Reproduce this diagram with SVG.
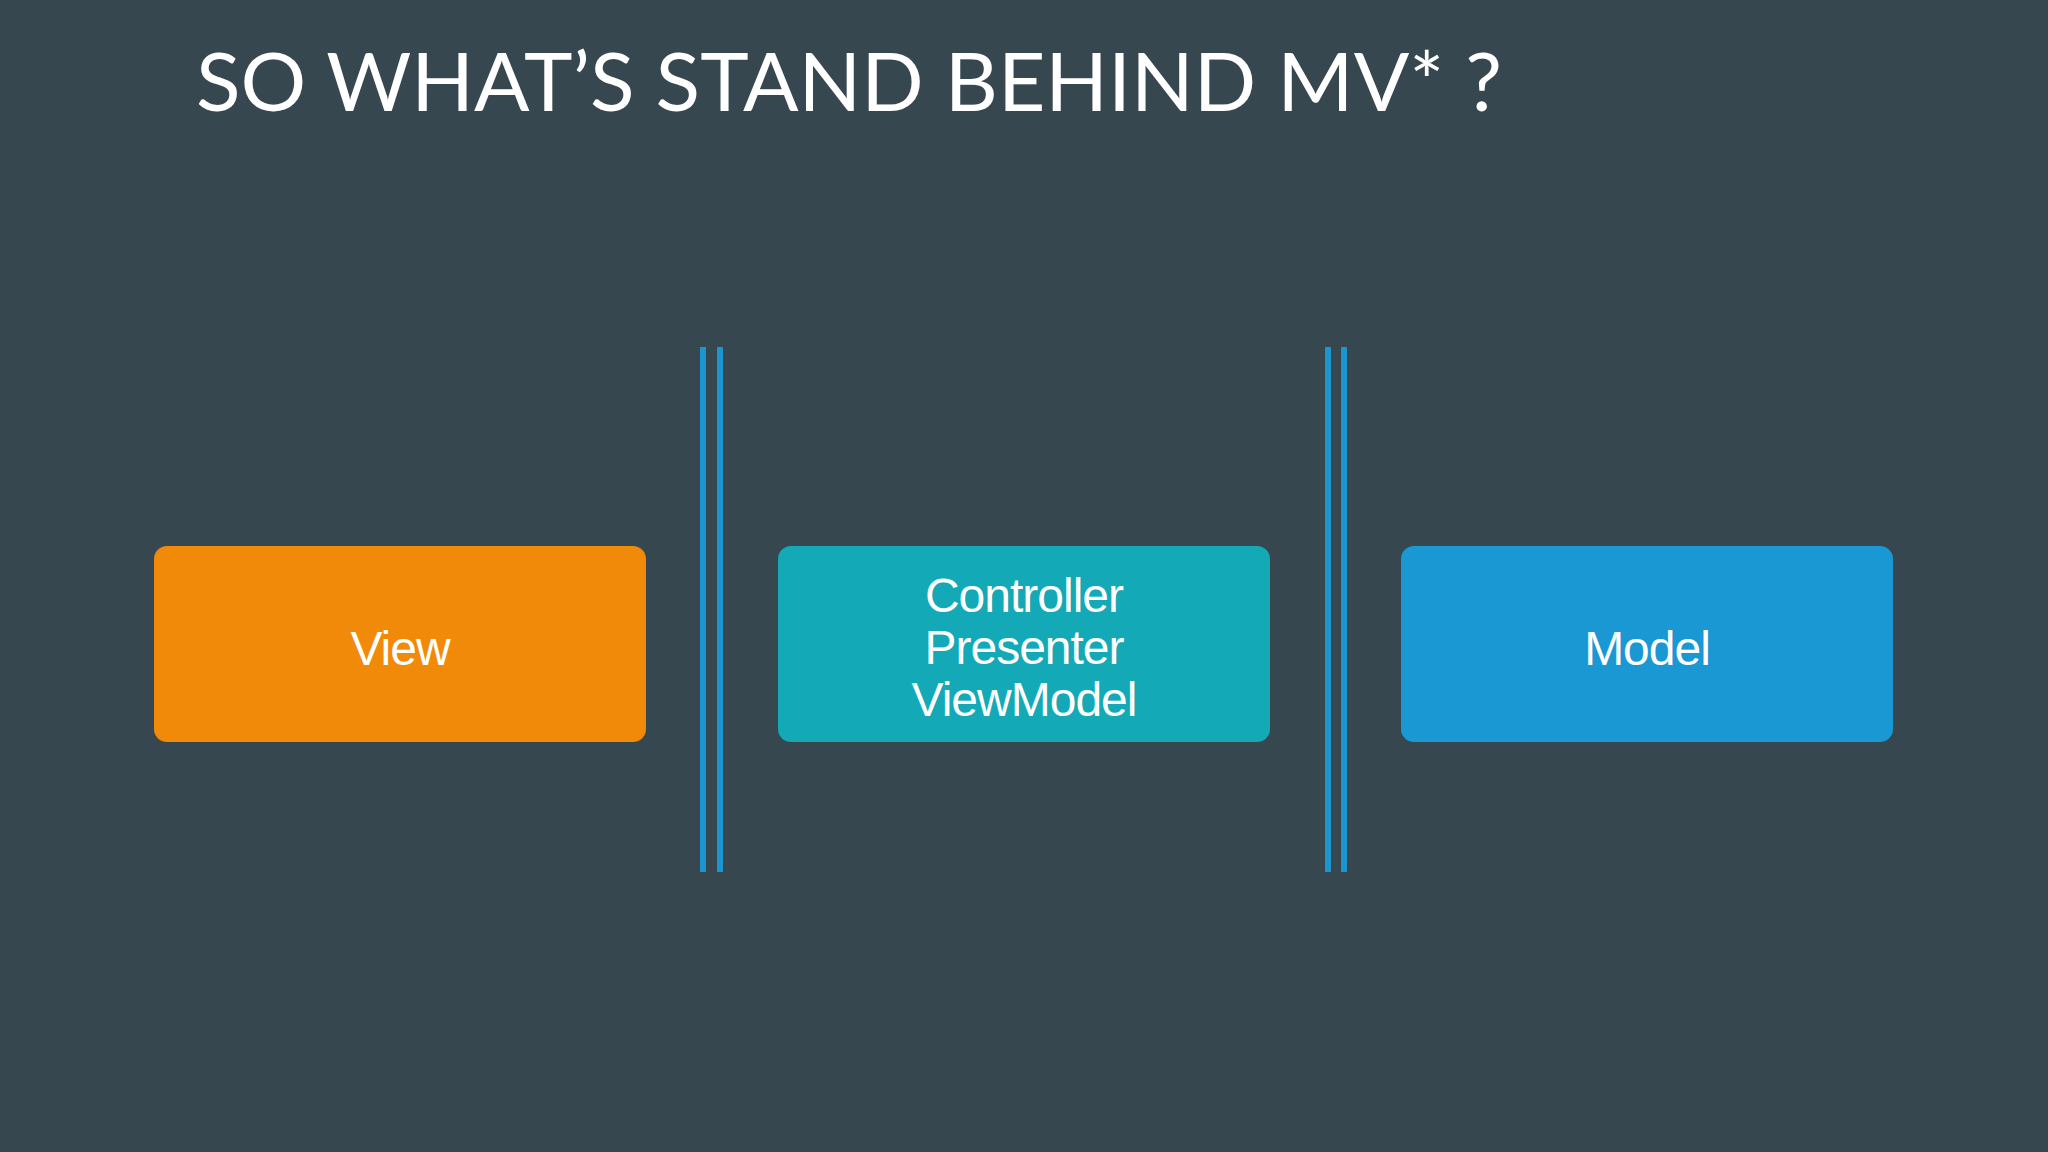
<svg xmlns="http://www.w3.org/2000/svg" width="2048" height="1152" viewBox="0 0 2048 1152">
<style>
.box-label{font-family:"Liberation Sans",Arial,sans-serif;font-size:48px;letter-spacing:-1px;fill:#ffffff;text-anchor:middle}
.title{font-family:Lato,"Open Sans",sans-serif;font-size:82px;fill:#ffffff}
.sep{stroke:#1b95d0;stroke-width:6}
</style>
<rect width="2048" height="1152" fill="#37474f"/>
<text class="title" x="196" y="111" textLength="1306" lengthAdjust="spacingAndGlyphs">SO WHAT’S STAND BEHIND MV* ?</text>
<g id="connectors">
<line class="sep" x1="703" y1="347" x2="703" y2="872"/>
<line class="sep" x1="720" y1="347" x2="720" y2="872"/>
<line class="sep" x1="1328" y1="347" x2="1328" y2="872"/>
<line class="sep" x1="1344" y1="347" x2="1344" y2="872"/>
</g>
<g id="view">
<rect x="154" y="546" width="492" height="196" rx="13" fill="#f08a08"/>
<text class="box-label" x="400" y="665">View</text>
</g>
<g id="controller">
<rect x="778" y="546" width="492" height="196" rx="13" fill="#13a9b6"/>
<text class="box-label" x="1024" y="612">Controller</text>
<text class="box-label" x="1024" y="664">Presenter</text>
<text class="box-label" x="1024" y="716">ViewModel</text>
</g>
<g id="model">
<rect x="1401" y="546" width="492" height="196" rx="13" fill="#1a98d3"/>
<text class="box-label" x="1647" y="665">Model</text>
</g>
</svg>
